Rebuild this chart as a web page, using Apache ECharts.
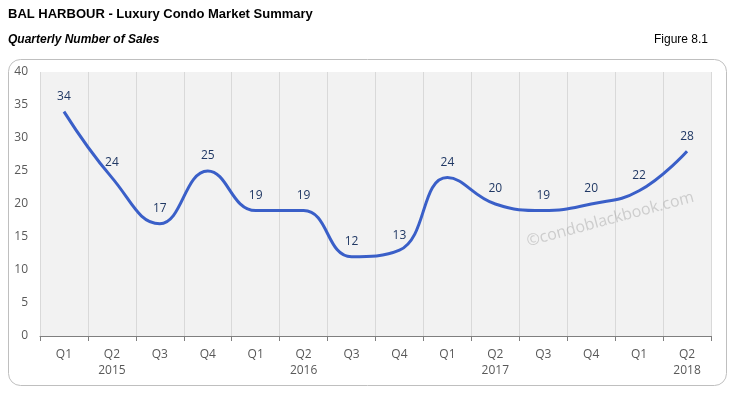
<!DOCTYPE html>
<html><head><meta charset="utf-8">
<script src="https://cdn.jsdelivr.net/npm/echarts@6/dist/echarts.min.js"></script>
<style>html,body{margin:0;padding:0;background:#fff}#c{width:730px;height:394px}</style>
</head><body><div id="c"></div>
<script>
const quarters = ["Q1","Q2","Q3","Q4","Q1","Q2","Q3","Q4","Q1","Q2","Q3","Q4","Q1","Q2"];
const years = ["","2015","","","","2016","","","","2017","","","","2018"];
const sales = [34,24,17,25,19,19,12,13,24,20,19,20,22,28];
const yTicks = {min:0, max:40, interval:5};

const cats = quarters.map((q,i)=> years[i] ? q + "\n" + years[i] : q);
const chart = echarts.init(document.getElementById('c'));
chart.setOption({
  animation:false,
  graphic:[
    {type:'rect', shape:{x:8.5,y:59.5,width:718,height:326,r:12}, style:{fill:'#fff',stroke:'#bfbfbf',lineWidth:1}, z:-10},
    {type:'text', left:8, top:8, style:{text:'BAL HARBOUR - Luxury Condo Market Summary', font:'bold 13px "Liberation Sans", Arial', fill:'#000'}},
    {type:'text', left:8, top:34, style:{text:'Quarterly Number of Sales', font:'italic bold 12px "Liberation Sans", Arial', fill:'#000'}},
    {type:'text', right:22, top:34, style:{text:'Figure 8.1', font:'12px "Liberation Sans", Arial', fill:'#000'}},
    {type:'text', x:525, y:234, rotation:15*Math.PI/180, style:{text:'\u00A9condoblackbook.com', font:'16px "Open Sans", "Liberation Sans", Arial', fill:'rgba(150,150,150,0.4)'}, z:5}
  ],
  grid:{left:40, right:19, top:72, bottom:58, show:true, backgroundColor:'#f2f2f2', borderWidth:0},
  xAxis:{type:'category', data:cats, boundaryGap:true,
    axisLine:{lineStyle:{color:'#7f7f7f'}},
    axisTick:{show:true, length:5, lineStyle:{color:'#7f7f7f'}},
    splitLine:{show:true, lineStyle:{color:'#d9d9d9'}},
    axisLabel:{color:'#595959', fontSize:12, lineHeight:16, margin:11, fontFamily:'"Open Sans", "Liberation Sans", Arial'}},
  yAxis:{type:'value', min:yTicks.min, max:yTicks.max, interval:yTicks.interval,
    axisLine:{show:false}, axisTick:{show:false}, splitLine:{show:false},
    axisLabel:{color:'#595959', fontSize:12, margin:12, fontFamily:'"Open Sans", "Liberation Sans", Arial'}},
  series:[{type:'line', data:sales, smooth:0.45, symbol:'circle', symbolSize:2, showSymbol:true,
    itemStyle:{color:'rgba(0,0,0,0)', borderWidth:0},
    lineStyle:{color:'#3a5fc8', width:3},
    label:{show:true, position:'top', distance:8, color:'#203864', fontSize:12, fontFamily:'"Open Sans", "Liberation Sans", Arial'}}]
});
</script></body></html>
